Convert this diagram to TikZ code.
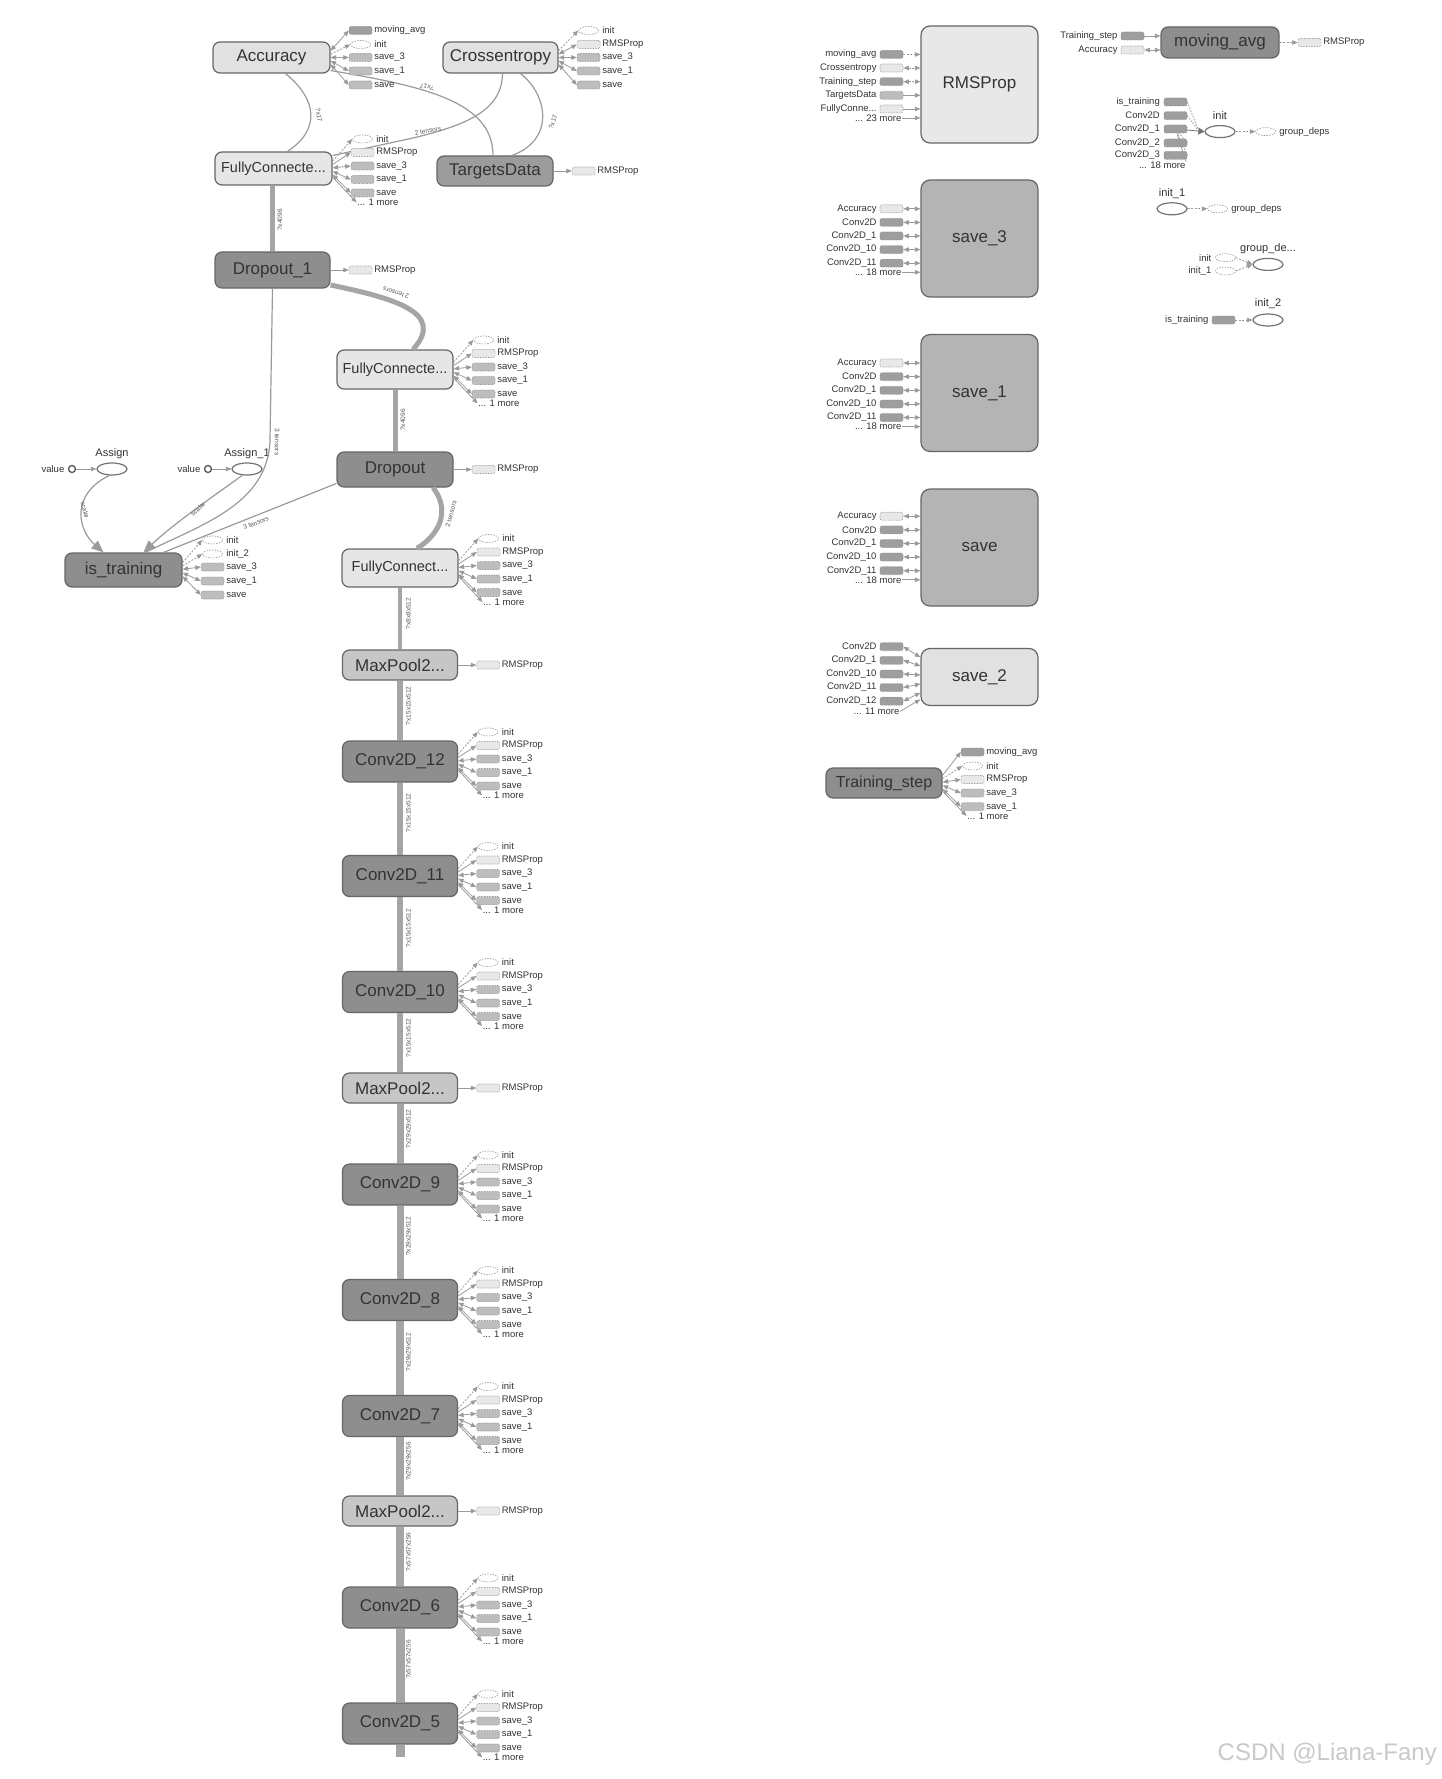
\documentclass[tikz,border=0pt]{standalone}
\usepackage{fontspec}
\setmainfont{Liberation Sans}
\usetikzlibrary{arrows.meta,calc,shapes.geometric}
\definecolor{edgec}{HTML}{9A9A9A}
\definecolor{bordc}{HTML}{666666}
\definecolor{txtc}{HTML}{333333}
\definecolor{fLight}{HTML}{E1E1E1}
\definecolor{fFC}{HTML}{E6E6E6}
\definecolor{fMid}{HTML}{C6C6C6}
\definecolor{fSave}{HTML}{B4B4B4}
\definecolor{fDark}{HTML}{8E8E8E}
\definecolor{fTD}{HTML}{9C9C9C}
\definecolor{sL}{HTML}{E8E8E8}
\definecolor{sM}{HTML}{BDBDBD}
\definecolor{sD}{HTML}{9E9E9E}
\definecolor{spinec}{HTML}{A5A5A5}
\definecolor{wm}{HTML}{C9C9C9}
\newcommand\outstub[6]{%
  \node[#4] (#1#2) at ($(#1.east)+(30,#3)$) {};
  \node[lbl,anchor=west] (#1#2l) at ($(#1.east)+(43,#3)$) {#5};
  \draw[#6] ($(#1.east)+(0,{0.25*(#3)})$) -- (#1#2.west);}
\newcommand\outmore[3]{%
  \node[lbl,anchor=west] (#1m) at ($(#1.east)+(24,#2)$) {#3};
  \draw[aS] ($(#1.east)+(0,{0.25*(#2)})$) -- (#1m.west);}
\newcommand\instub[7]{%
  \node[#4] (#1) at (#2,#3) {};
  \node[lbl,anchor=east] (#1l) at ($(#1.west)+(-2.5,0)$) {#5};
  \draw[#6] (#1.east) -- #7;}
\newcommand\convstubs[1]{%
  \outstub{#1}{a}{-29.5}{stubE}{init}{aC}%
  \outstub{#1}{b}{-16}{stubL}{RMSProp}{aS}%
  \outstub{#1}{c}{-2.5}{stubM}{save\_3}{aB}%
  \outstub{#1}{d}{11}{stubM}{save\_1}{aB}%
  \outstub{#1}{e}{24.5}{stubM}{save}{aB}%
  \outmore{#1}{34}{... 1 more}}
\newcommand\savein[7]{%
  \instub{#1a}{891.5}{#2}{stubL}{Accuracy}{aB}{(#1.west |- #1a)}%
  \instub{#1b}{891.5}{#3}{stubD}{Conv2D}{aB}{(#1.west |- #1b)}%
  \instub{#1c}{891.5}{#4}{stubD}{Conv2D\_1}{aB}{(#1.west |- #1c)}%
  \instub{#1d}{891.5}{#5}{stubD}{Conv2D\_10}{aB}{(#1.west |- #1d)}%
  \instub{#1e}{891.5}{#6}{stubD}{Conv2D\_11}{aB}{(#1.west |- #1e)}%
  \node[lbl,anchor=east] (#1m) at (902,#7) {... 18 more};%
  \draw[aS] (#1m.east) -- (#1.west |- #1m);}
\begin{document}
\begin{tikzpicture}[x=1pt,y=-1pt,
  op/.style={draw=bordc,line width=1.2pt,rounded corners=7pt,text=txtc,font=\fontsize{17}{20}\selectfont,inner sep=0pt,minimum width=116pt},
  big/.style={op,minimum width=117pt,minimum height=117pt,rounded corners=9pt},
  lbl/.style={font=\fontsize{9.5}{10}\selectfont,text=txtc,inner sep=0.5pt},
  glbl/.style={font=\fontsize{11}{13}\selectfont,text=txtc,inner sep=0.5pt},
  elbl/.style={font=\fontsize{6.5}{7}\selectfont,text=black!65,inner sep=0.5pt},
  stubL/.style={draw=black!45,densely dotted,line width=0.6pt,fill=sL,rounded corners=2pt,minimum width=23pt,minimum height=8pt,inner sep=0pt},
  stubM/.style={stubL,fill=sM},
  stubD/.style={stubL,fill=sD},
  stubE/.style={ellipse,draw=black!40,dash pattern=on 1.5pt off 1.2pt,line width=0.6pt,fill=white,minimum width=20pt,minimum height=8pt,inner sep=0pt},
  ell/.style={ellipse,draw=black!55,line width=1.2pt,fill=white,minimum width=30pt,minimum height=12pt,inner sep=0pt},
  aS/.style={draw=edgec,line width=0.8pt,-{Triangle[width=4.5pt,length=5.5pt]}},
  aB/.style={draw=edgec,line width=0.8pt,{Triangle[width=4.5pt,length=5.5pt]}-{Triangle[width=4.5pt,length=5.5pt]}},
  aC/.style={aS,dash pattern=on 2pt off 1.5pt},
  aCB/.style={aB,dash pattern=on 2pt off 1.5pt},
  aDot/.style={draw=edgec,line width=0.8pt,dash pattern=on 1.5pt off 1.5pt},
  eThin/.style={draw=edgec,line width=1.2pt},
  eThick/.style={draw=spinec,line width=5pt},
  bigarr/.style={-{Triangle[width=10pt,length=12pt]}},
]
\fill[white] (0,0) rectangle (1441,1779);
\useasboundingbox (0,0) rectangle (1441,1779);

% ---------------- main left graph nodes
\node[op,fill=fLight,minimum height=31pt,minimum width=117pt] (acc) at (271.5,57.5) {Accuracy};
\node[op,fill=fLight,minimum height=31pt,minimum width=115pt] (xent) at (500.5,57.5) {Crossentropy};
\node[op,fill=fFC,minimum height=33pt,minimum width=117pt,font=\fontsize{14.5}{17}\selectfont] (fc1) at (273.5,168.5) {FullyConnecte...};
\node[op,fill=fTD,minimum height=30pt] (tdata) at (495,171) {TargetsData};
\node[op,fill=fDark,minimum height=36pt,minimum width=115pt] (drop1) at (272.5,270) {Dropout\_1};
\node[op,fill=fFC,minimum height=39pt,font=\fontsize{14.5}{17}\selectfont] (fc2) at (395,369.5) {FullyConnecte...};
\node[op,fill=fDark,minimum height=35pt] (drop) at (395,469.5) {Dropout};
\node[op,fill=fDark,minimum height=34pt,minimum width=117pt] (istr) at (123.5,570) {is\_training};
\node[op,fill=fFC,minimum height=38pt,font=\fontsize{14.5}{17}\selectfont] (fc3) at (400,568) {FullyConnect...};

\node[op,fill=fMid,minimum height=30pt,minimum width=115pt] (mp1) at (400,665) {MaxPool2...};
\node[op,fill=fDark,minimum height=41pt,minimum width=115pt] (c12) at (400,761.5) {Conv2D\_12};
\node[op,fill=fDark,minimum height=41pt,minimum width=115pt] (c11) at (400,876) {Conv2D\_11};
\node[op,fill=fDark,minimum height=41pt,minimum width=115pt] (c10) at (400,992) {Conv2D\_10};
\node[op,fill=fMid,minimum height=30pt,minimum width=115pt] (mp2) at (400,1088) {MaxPool2...};
\node[op,fill=fDark,minimum height=41pt,minimum width=115pt] (c9) at (400,1184.5) {Conv2D\_9};
\node[op,fill=fDark,minimum height=41pt,minimum width=115pt] (c8) at (400,1300) {Conv2D\_8};
\node[op,fill=fDark,minimum height=41pt,minimum width=115pt] (c7) at (400,1416) {Conv2D\_7};
\node[op,fill=fMid,minimum height=30pt,minimum width=115pt] (mp3) at (400,1511) {MaxPool2...};
\node[op,fill=fDark,minimum height=41pt,minimum width=115pt] (c6) at (400,1607.5) {Conv2D\_6};
\node[op,fill=fDark,minimum height=41pt,minimum width=115pt] (c5) at (400,1723.5) {Conv2D\_5};
\coordinate (spend) at (400,1757);

% Assign nodes
\node[ell] (asg) at (112,469) {};
\node[glbl] (asgl) at (112,454) {Assign};
\node[circle,draw=black!70,line width=1.2pt,fill=white,minimum size=7pt,inner sep=0pt] (asgv) at (72,469) {};
\node[lbl,anchor=east] (asgvl) at (65,469) {value};
\draw[aS] (asgv) -- (asg);
\node[ell] (asg1) at (247,469) {};
\node[glbl] (asg1l) at (247,454) {Assign\_1};
\node[circle,draw=black!70,line width=1.2pt,fill=white,minimum size=7pt,inner sep=0pt] (asg1v) at (208,469) {};
\node[lbl,anchor=east] (asg1vl) at (201,469) {value};
\draw[aS] (asg1v) -- (asg1);

% ---------------- edges between main nodes
\draw[eThin] ($(acc.south)+(14,0)$) .. controls (318,100) and (320,130) .. ($(fc1.north)+(14,0)$);
\node[elbl,rotate=-80] (l1) at (319,115) {?x17};
\draw[eThin] ($(acc.east)+(0,13)$) .. controls (420,86) and (493,100) .. ($(tdata.north)+(-2,0)$);
\node[elbl,rotate=168] (l2) at (427,87) {?x17};
\draw[eThin] ($(xent.south)+(2,0)$) .. controls (502,108) and (472,124) .. (413,138) -- ($(fc1.east)+(0,-13)$);
\node[elbl,rotate=12] (l3) at (428,131) {2 tensors};
\draw[eThin] ($(xent.south)+(20,0)$) .. controls (548,95) and (555,140) .. ($(tdata.north)+(17,0)$);
\node[elbl,rotate=70] (l4) at (553,122) {?x17};

\draw[eThick] (drop1.north |- fc1.south) -- (drop1.north);
\node[elbl,rotate=90] (l5) at (280,220) {?x4096};
\draw[eThick] ($(drop1.east)+(0,15)$) .. controls (392,298) and (447,312) .. ($(fc2.north)+(18,0)$);
\node[elbl,rotate=163] (l6) at (396,293) {2 tensors};
\draw[eThin] (drop1.south) -- (270,440) .. controls (268,505) and (200,525) .. ($(istr.north)+(22,0)$);
\node[elbl,rotate=-90] (l7) at (277,442) {3 tensors};
\draw[eThin] ($(drop.west)+(0,14)$) -- ($(istr.north)+(40,0)$);
\node[elbl,rotate=21] (l8) at (256,523) {3 tensors};
\draw[eThin,bigarr] ($(asg.south)+(-3,0)$) .. controls (70,495) and (78,530) .. ($(istr.north)+(-20,0)$);
\node[elbl,rotate=-75] (l9) at (85,510) {scalar};
\draw[eThin,bigarr] ($(asg1.south)+(-5,0)$) .. controls (215,495) and (172,525) .. ($(istr.north)+(20,0)$);
\node[elbl,rotate=40] (l10) at (198,509) {scalar};
\draw[eThick] (fc2.south) -- (drop.north);
\node[elbl,rotate=90] (l11) at (403,420) {?x4096};
\draw[eThick] ($(drop.south)+(38,0)$) .. controls (447,505) and (446,530) .. ($(fc3.north)+(17,0)$);
\node[elbl,rotate=75] (l12) at (451,514) {2 tensors};

% spine
\foreach \a/\b/\w/\t in {fc3/mp1/4.5/{?x8x8x512},mp1/c12/5.5/{?x15x15x512},c12/c11/6/{?x15x15x512},c11/c10/6/{?x15x15x512},c10/mp2/6.5/{?x15x15x512},mp2/c9/7/{?x29x29x512},c9/c8/7/{?x29x29x512},c8/c7/7.5/{?x29x29x512},c7/mp3/8/{?x29x29x256},mp3/c6/8.5/{?x57x57x256},c6/c5/9/{?x57x57x256}}{
  \draw[draw=spinec,line width=\w pt] (\a.south) -- (\b.north)
    node[elbl,pos=0.42,rotate=90,anchor=north,outer sep=5.5pt] (sl\a) {\t};
}
\draw[draw=spinec,line width=9pt] (c5.south) -- (spend);

% ---------------- stubs of main nodes
\outstub{acc}{a}{-27}{stubD}{moving\_avg}{aB}
\outstub{acc}{b}{-13}{stubE}{init}{aC}
\outstub{acc}{c}{0}{stubM}{save\_3}{aB}
\outstub{acc}{d}{13.5}{stubM}{save\_1}{aB}
\outstub{acc}{e}{27.5}{stubM}{save}{aB}

\outstub{xent}{a}{-27}{stubE}{init}{aC}
\outstub{xent}{b}{-13}{stubL}{RMSProp}{aB}
\outstub{xent}{c}{0}{stubM}{save\_3}{aB}
\outstub{xent}{d}{13.5}{stubM}{save\_1}{aB}
\outstub{xent}{e}{27.5}{stubM}{save}{aB}

\convstubs{fc1}
\convstubs{fc2}
\convstubs{fc3}
\convstubs{c12}
\convstubs{c11}
\convstubs{c10}
\convstubs{c9}
\convstubs{c8}
\convstubs{c7}
\convstubs{c6}
\convstubs{c5}

\outstub{tdata}{o}{0}{stubL}{RMSProp}{aS}
\outstub{drop1}{o}{0}{stubL}{RMSProp}{aS}
\outstub{drop}{o}{0}{stubL}{RMSProp}{aS}
\outstub{mp1}{o}{0}{stubL}{RMSProp}{aS}
\outstub{mp2}{o}{0}{stubL}{RMSProp}{aS}
\outstub{mp3}{o}{0}{stubL}{RMSProp}{aS}

\outstub{istr}{a}{-30}{stubE}{init}{aC}
\outstub{istr}{b}{-16}{stubE}{init\_2}{aC}
\outstub{istr}{c}{-3}{stubM}{save\_3}{aB}
\outstub{istr}{d}{11}{stubM}{save\_1}{aB}
\outstub{istr}{e}{25}{stubM}{save}{aB}

% ---------------- right side
\node[big,fill=sL] (rms) at (979.5,84.5) {RMSProp};
\instub{rmsa}{891.5}{54.5}{stubD}{moving\_avg}{aC}{(rms.west |- rmsa)}
\instub{rmsb}{891.5}{68}{stubL}{Crossentropy}{aCB}{(rms.west |- rmsb)}
\instub{rmsc}{891.5}{81.7}{stubD}{Training\_step}{aCB}{(rms.west |- rmsc)}
\instub{rmsd}{891.5}{95.3}{stubM}{TargetsData}{aS}{(rms.west |- rmsd)}
\instub{rmse}{891.5}{109}{stubL}{FullyConne...}{aS}{(rms.west |- rmse)}
\node[lbl,anchor=east] (rmsm) at (902,118) {... 23 more};
\draw[aS] (rmsm.east) -- (rms.west |- rmsm);

\node[big,fill=fSave] (sv3) at (979.5,238.5) {save\_3};
\savein{sv3}{208.8}{222.4}{236}{249.6}{263.2}{272.3}
\node[big,fill=fSave] (sv1) at (979.5,393) {save\_1};
\savein{sv1}{363}{376.7}{390.3}{404}{417.5}{426.6}
\node[big,fill=fSave] (sv0) at (979.5,547.5) {save};
\savein{sv0}{516.2}{529.9}{543.5}{557}{570.7}{579.8}

\node[big,fill=fLight,minimum height=57pt] (sv2) at (979.5,677) {save\_2};
\instub{sv2a}{891.5}{646.7}{stubD}{Conv2D}{aB}{($(sv2.west)+(0,-19.7)$)}
\instub{sv2b}{891.5}{660.3}{stubD}{Conv2D\_1}{aB}{($(sv2.west)+(0,-11)$)}
\instub{sv2c}{891.5}{674}{stubD}{Conv2D\_10}{aB}{($(sv2.west)+(0,-2)$)}
\instub{sv2d}{891.5}{687.6}{stubD}{Conv2D\_11}{aB}{($(sv2.west)+(0,6.9)$)}
\instub{sv2e}{891.5}{701.2}{stubD}{Conv2D\_12}{aB}{($(sv2.west)+(0,15.7)$)}
\node[lbl,anchor=east] (sv2m) at (900,711.4) {... 11 more};
\draw[aS] (sv2m.east) -- ($(sv2.west)+(0,22.4)$);

\node[op,fill=fDark,minimum height=30pt,font=\fontsize{16}{19}\selectfont] (tstep) at (884,783) {Training\_step};
\outstub{tstep}{a}{-31}{stubD}{moving\_avg}{aS}
\outstub{tstep}{b}{-17}{stubE}{init}{aC}
\outstub{tstep}{c}{-3.5}{stubL}{RMSProp}{aB}
\outstub{tstep}{d}{10}{stubM}{save\_3}{aB}
\outstub{tstep}{e}{23.7}{stubM}{save\_1}{aB}
\outmore{tstep}{33}{... 1 more}

\node[op,fill=fDark,minimum height=31pt,minimum width=118pt] (mavg) at (1220,42.5) {moving\_avg};
\instub{mavga}{1132.5}{36}{stubD}{Training\_step}{aS}{(mavg.west |- mavga)}
\instub{mavgb}{1132.5}{50}{stubL}{Accuracy}{aB}{(mavg.west |- mavgb)}
\outstub{mavg}{o}{0}{stubL}{RMSProp}{aC}

% init group
\node[ell] (ini) at (1220,131.6) {};
\node[glbl] (inil) at (1220,116) {init};
\coordinate (inic) at (1199,131.6);
\foreach \n/\y/\t in {a/102/is\_training,b/115.7/Conv2D,c/129/Conv2D\_1,d/143/Conv2D\_2,e/155.4/Conv2D\_3}{
  \node[stubD] (ini\n) at (1175.5,\y) {};
  \node[lbl,anchor=east] (ini\n l) at (1160.5,\y) {\t};
  \draw[aDot] (ini\n.east) -- (inic);
}
\node[lbl,anchor=east] (inim) at (1186,165.6) {... 18 more};
\draw[eThin,line width=0.8pt] (inim.north east) -- (inic);
\draw[draw=black!55,line width=0.8pt,-{Triangle[width=7pt,length=6pt,fill=black!55]}] (inic) -- (ini.west);
\outstub{ini}{o}{0}{stubE}{group\_deps}{aC}

\node[ell] (ini1) at (1172,208.8) {};
\node[glbl] (ini1l) at (1172,194) {init\_1};
\outstub{ini1}{o}{0}{stubE}{group\_deps}{aC}

\node[ell] (gd) at (1268,264.4) {};
\node[glbl] (gdl) at (1268,248.5) {group\_de...};
\node[stubE] (gda) at (1225.5,257.6) {};
\node[lbl,anchor=east] (gdal) at (1212,257.6) {init};
\node[stubE] (gdb) at (1225.5,271) {};
\node[lbl,anchor=east] (gdbl) at (1212,271) {init\_1};
\draw[aC] (gda.east) -- (gd.west);
\draw[aC] (gdb.east) -- (gd.west);

\node[ell] (ini2) at (1268,320) {};
\node[glbl] (ini2l) at (1268,304) {init\_2};
\instub{ini2a}{1223.5}{320}{stubD}{is\_training}{aC}{(ini2.west)}

% watermark
\node[font=\fontsize{24}{28}\selectfont,text=wm,anchor=east,inner sep=0pt] (wmark) at (1437,1754) {CSDN @Liana-Fany};
\end{tikzpicture}
\end{document}
